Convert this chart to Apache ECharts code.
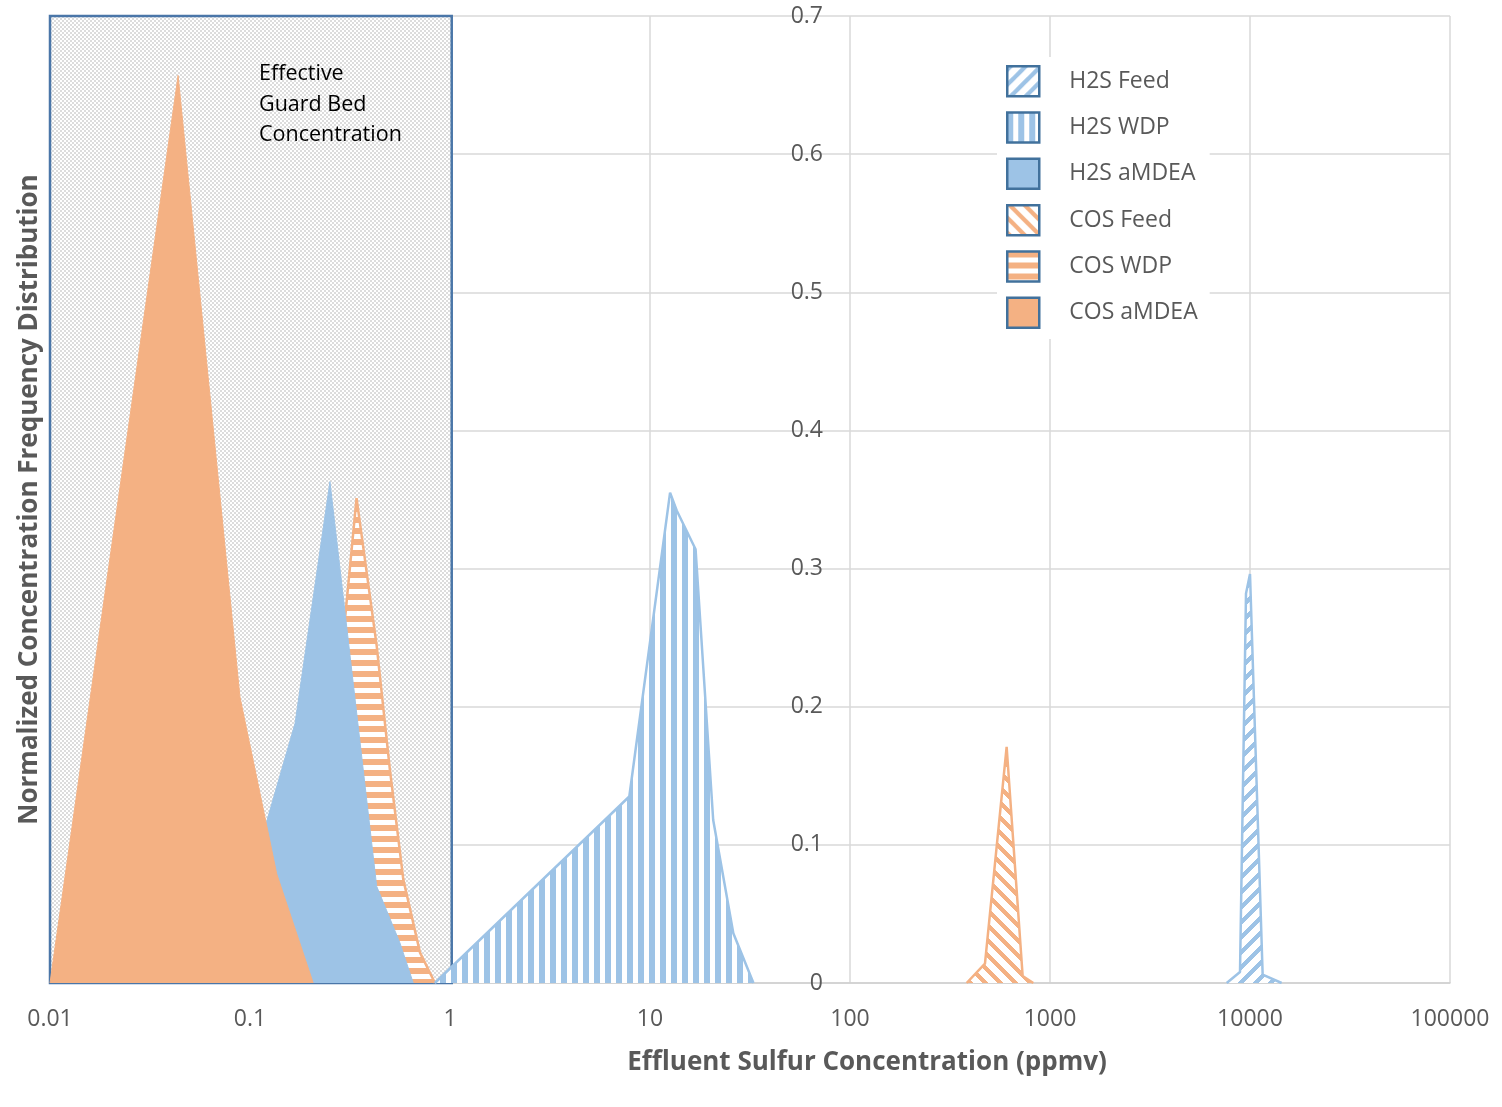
<!DOCTYPE html>
<html>
<head>
<meta charset="utf-8">
<script src="https://cdn.jsdelivr.net/npm/echarts@6/dist/echarts.min.js"></script>
<style>
html,body{margin:0;padding:0;background:#fff;}
#chart{width:1502px;height:1107px;}
</style>
</head>
<body>
<div id="chart"></div>
<script>
// ---- data ----
const seriesNames = ['H2S Feed', 'H2S WDP', 'H2S aMDEA', 'COS Feed', 'COS WDP', 'COS aMDEA'];
const h2sFeedX = [7647, 8913, 9550, 10000, 11570, 14390];
const h2sFeedY = [0, 0.008, 0.282, 0.296, 0.006, 0];
const h2sWdpX = [0.84, 7.88, 12.6, 13.6, 16.9, 20.7, 26.1, 32.9];
const h2sWdpY = [0, 0.135, 0.355, 0.342, 0.314, 0.118, 0.036, 0];
const h2sAmdeaX = [0.0708, 0.168, 0.251, 0.430, 0.562, 0.655];
const h2sAmdeaY = [0, 0.188, 0.363, 0.070, 0.029, 0];
const cosFeedX = [383, 473, 607, 730, 825];
const cosFeedY = [0, 0.014, 0.171, 0.005, 0];
const cosWdpX = [0.2, 0.341, 0.430, 0.501, 0.584, 0.708, 0.841];
const cosWdpY = [0, 0.351, 0.244, 0.154, 0.075, 0.022, 0];
const cosAmdeaX = [0.01, 0.0437, 0.0891, 0.136, 0.207];
const cosAmdeaY = [0, 0.657, 0.207, 0.079, 0];
const guardBedX = [0.01, 1.02];
const guardBedY = [0, 0.7];
const guardBedText = 'Effective\nGuard Bed\nConcentration';
const xTickLabels = ['0.01', '0.1', '1', '10', '100', '1000', '10000', '100000'];
const yTickLabels = ['0', '0.1', '0.2', '0.3', '0.4', '0.5', '0.6', '0.7'];
const xAxisTitle = 'Effluent Sulfur Concentration (ppmv)';
const yAxisTitle = 'Normalized Concentration Frequency Distribution';

// ---- styling ----
const BLUE = '#9dc3e6';
const ORANGE = '#f4b183';
const FONT = "'Open Sans', sans-serif";
const TXT = '#595959';

function tile(w, h, fn) {
  const c = document.createElement('canvas');
  c.width = w; c.height = h;
  const ctx = c.getContext('2d');
  const img = ctx.createImageData(w, h);
  for (let j = 0; j < h; j++) for (let i = 0; i < w; i++) {
    const col = fn(i, j);
    const k = (j * w + i) * 4;
    img.data[k] = col[0]; img.data[k + 1] = col[1]; img.data[k + 2] = col[2]; img.data[k + 3] = 255;
  }
  ctx.putImageData(img, 0, 0);
  return { image: c, repeat: 'repeat' };
}
const rgb = h => [parseInt(h.slice(1, 3), 16), parseInt(h.slice(3, 5), 16), parseInt(h.slice(5, 7), 16)];
const W = [255, 255, 255];
const cB = rgb(BLUE), cO = rgb(ORANGE);
const S = 15;
const patH2sFeed = tile(S, S, (i, j) => (((i + j) % S) < 6 ? cB : W));
const patCosFeed = tile(S, S, (i, j) => ((((i - j) % S) + S) % S < 6 ? cO : W));
const patH2sWdp = tile(11, 11, (i, j) => (i < 6 ? cB : W));
const patCosWdp = tile(11, 11, (i, j) => (j < 6 ? cO : W));
const patGuard = tile(4, 4, (i, j) => ((((i >> 1) + (j >> 1)) % 2) ? [220, 220, 220] : W));

const zip = (xs, ys) => xs.map((x, i) => [x, ys[i]]);

function areaSeries(name, xs, ys, fill, stroke, z, lw) {
  return {
    name, type: 'line', data: zip(xs, ys), z,
    showSymbol: false, symbol: 'none', smooth: false,
    lineStyle: { color: stroke, width: lw },
    itemStyle: { color: stroke },
    areaStyle: { color: fill, opacity: 1 },
    emphasis: { disabled: true },
    silent: true
  };
}

const legendFill = [patH2sFeed, patH2sWdp, BLUE, patCosFeed, patCosWdp, ORANGE];

const chart = echarts.init(document.getElementById('chart'), null, { renderer: 'canvas' });
chart.setOption({
  animation: false,
  backgroundColor: '#fff',
  grid: { left: 50, right: 52, top: 16, bottom: 124, containLabel: false },
  xAxis: {
    type: 'log', logBase: 10, min: 0.01, max: 100000,
    name: xAxisTitle, nameLocation: 'middle', nameGap: 67,
    nameTextStyle: { fontFamily: FONT, fontWeight: 'bold', fontSize: 26, color: TXT, padding: [0, 0, 0, 234] },
    axisLine: { show: true, lineStyle: { color: '#d0d0d0', width: 1.5 } },
    axisTick: { show: false },
    axisLabel: {
      fontFamily: FONT, fontSize: 23, color: TXT, margin: 25,
      formatter: v => xTickLabels[Math.round(Math.log10(v)) + 2]
    },
    splitLine: { show: true, lineStyle: { color: '#d9d9d9', width: 1.5 } },
    minorTick: { show: false }, minorSplitLine: { show: false }
  },
  yAxis: {
    type: 'value', min: 0, max: 0.7, interval: 0.1,
    position: 'left', offset: -781,
    name: yAxisTitle, nameLocation: 'middle', nameGap: 788,
    nameTextStyle: { fontFamily: FONT, fontWeight: 'bold', fontSize: 26, color: TXT },
    axisLine: { show: false }, axisTick: { show: false },
    axisLabel: {
      fontFamily: FONT, fontSize: 23, color: TXT, margin: 8,
      formatter: v => yTickLabels[Math.round(v * 10)]
    },
    splitLine: { show: true, lineStyle: { color: '#d9d9d9', width: 1.5 } }
  },
  legend: {
    orient: 'vertical', left: 997, top: 57, z: 10,
    backgroundColor: '#fff', padding: [8, 12, 10, 9],
    itemWidth: 32, itemHeight: 30, itemGap: 13.8,
    selectedMode: false,
    textStyle: { fontFamily: FONT, fontSize: 23, lineHeight: 30, color: TXT, padding: [0, 0, 0, 25] },
    data: seriesNames.map((n, i) => ({
      name: n, icon: 'rect',
      itemStyle: { color: legendFill[i], borderColor: '#41719c', borderWidth: 2.5 }
    }))
  },
  graphic: [{
    type: 'text', left: 259, top: 59, z: 10, silent: true,
    style: { text: guardBedText, font: "21.5px 'Open Sans', sans-serif", fill: '#000', lineHeight: 30.5 }
  }],
  series: [
    areaSeries(seriesNames[0], h2sFeedX, h2sFeedY, patH2sFeed, BLUE, 6, 2.5),
    areaSeries(seriesNames[1], h2sWdpX, h2sWdpY, patH2sWdp, BLUE, 6, 2.5),
    areaSeries(seriesNames[2], h2sAmdeaX, h2sAmdeaY, BLUE, BLUE, 4, 1),
    areaSeries(seriesNames[3], cosFeedX, cosFeedY, patCosFeed, ORANGE, 6, 2.5),
    Object.assign(areaSeries(seriesNames[4], cosWdpX, cosWdpY, patCosWdp, ORANGE, 3, 2.5), {
      markArea: {
        silent: true,
        itemStyle: { color: patGuard, borderColor: '#4a76a8', borderWidth: 2.5 },
        label: { show: false },
        data: [[{ xAxis: guardBedX[0], yAxis: guardBedY[0] }, { xAxis: guardBedX[1], yAxis: guardBedY[1] }]]
      }
    }),
    areaSeries(seriesNames[5], cosAmdeaX, cosAmdeaY, ORANGE, ORANGE, 5, 1)
  ]
});
</script>
</body>
</html>
